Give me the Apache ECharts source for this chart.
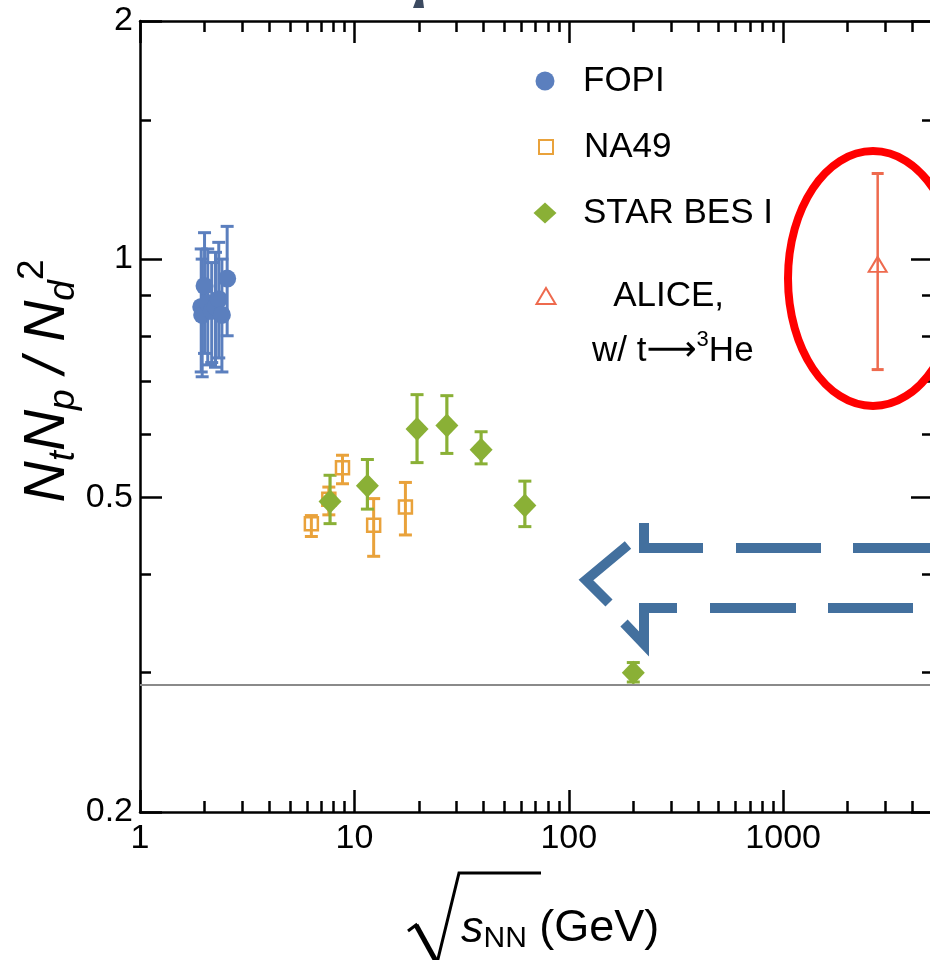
<!DOCTYPE html>
<html><head><meta charset="utf-8">
<script src="https://cdn.jsdelivr.net/npm/echarts@6/dist/echarts.min.js"></script>
<style>html,body{margin:0;padding:0;background:#fff}#c{width:930px;height:960px}</style>
</head><body><div id="c"></div>
<script>
// ---------------- data ----------------
const fopiEnergy = [1.93, 1.95, 2.00, 2.07, 2.16, 2.25, 2.33, 2.41, 2.55];
const fopiRatio  = [0.87, 0.85, 0.925, 0.88, 0.86, 0.87, 0.89, 0.85, 0.945];
const fopiLow    = [0.72, 0.71, 0.76, 0.735, 0.74, 0.73, 0.75, 0.72, 0.80];
const fopiHigh   = [1.03, 1.00, 1.08, 1.03, 0.99, 1.02, 1.05, 1.00, 1.10];

const na49Energy = [6.3, 7.6, 8.8, 12.3, 17.3];
const na49Ratio  = [0.463, 0.497, 0.545, 0.461, 0.486];
const na49Low    = [0.446, 0.475, 0.520, 0.421, 0.448];
const na49High   = [0.474, 0.515, 0.565, 0.498, 0.522];

const starEnergy = [7.7, 11.5, 19.6, 27, 39, 62.4, 200];
const starRatio  = [0.494, 0.517, 0.610, 0.616, 0.574, 0.488, 0.300];
const starLow    = [0.463, 0.483, 0.553, 0.568, 0.551, 0.459, 0.292];
const starHigh   = [0.533, 0.558, 0.674, 0.672, 0.605, 0.524, 0.309];

const aliceEnergy = [2760];
const aliceRatio  = [0.985];
const aliceLow    = [0.725];
const aliceHigh   = [1.283];

const coalescenceValue = 0.29;

const xMin = 1, xMax = 5000;
const xMajorTicks  = [1, 10, 100, 1000];
const xMajorLabels = ['1', '10', '100', '1000'];
const xMinorTicks  = [2,3,4,5,6,7,8,9,20,30,40,50,60,70,80,90,200,300,400,500,600,700,800,900,2000,3000,4000];
const yMin = 0.2, yMax = 2;
const yMajorTicks  = [0.2, 0.5, 1, 2];
const yMajorLabels = ['0.2', '0.5', '1', '2'];
const yMinorTicks  = [0.3, 0.4, 0.6, 0.7, 0.8, 0.9, 1.5];

const seriesNames = ['FOPI', 'NA49', 'STAR BES I', 'ALICE'];

// ---------------- styling ----------------
const FONT = "'Liberation Sans', Arial, Helvetica, sans-serif";
const C_FOPI = '#5B7FBE', C_NA49 = '#E9A23B', C_STAR = '#8AB036', C_ALICE = '#EE6A4E';
const C_ARROW = '#43709E';

function labelFrom(ticks, labels) {
  return function (v) {
    for (let i = 0; i < ticks.length; i++) {
      if (Math.abs(Math.log10(ticks[i]) - Math.log10(v)) < 1e-6) return labels[i];
    }
    return '';
  };
}

function xAxis(pos, major) {
  return {
    type: 'log', logBase: 10, min: xMin, max: xMax, position: pos, gridIndex: 0,
    axisLine: { show: major, onZero: false, lineStyle: { color: '#000', width: 2.5 } },
    axisTick: { show: true, inside: true, length: major ? 22 : 11,
      customValues: major ? xMajorTicks : xMinorTicks, lineStyle: { color: '#000', width: 2.5 } },
    axisLabel: { show: major && pos === 'bottom', customValues: xMajorTicks,
      formatter: labelFrom(xMajorTicks, xMajorLabels), fontSize: 34, fontFamily: FONT,
      color: '#000', margin: 10, showMinLabel: true, showMaxLabel: true },
    splitLine: { show: false }, minorTick: { show: false }, minorSplitLine: { show: false }
  };
}
function yAxis(pos, major) {
  return {
    type: 'log', logBase: 10, min: yMin, max: yMax, position: pos, gridIndex: 0,
    axisLine: { show: major, onZero: false, lineStyle: { color: '#000', width: 2.5 } },
    axisTick: { show: true, inside: true, length: major ? 22 : 11,
      customValues: major ? yMajorTicks : yMinorTicks, lineStyle: { color: '#000', width: 2.5 } },
    axisLabel: { show: major && pos === 'left', customValues: yMajorTicks,
      formatter: labelFrom(yMajorTicks, yMajorLabels), fontSize: 34, fontFamily: FONT,
      color: '#000', margin: 7, showMinLabel: true, showMaxLabel: true },
    splitLine: { show: false }, minorTick: { show: false }, minorSplitLine: { show: false }
  };
}

function errorBars(name, xs, lo, hi, color, width, cap) {
  return {
    type: 'custom', name: name, xAxisIndex: 0, yAxisIndex: 0, silent: true, z: 2,
    data: xs.map((x, i) => [x, (lo[i] + hi[i]) / 2, lo[i], hi[i]]),
    encode: { x: 0, y: [2, 3] },
    renderItem: function (params, api) {
      const x = api.value(0);
      const t = api.coord([x, api.value(3)]);
      const b = api.coord([x, api.value(2)]);
      const st = { stroke: color, lineWidth: width };
      const cs = { stroke: color, lineWidth: 3 };
      return { type: 'group', children: [
        { type: 'line', shape: { x1: t[0], y1: t[1], x2: b[0], y2: b[1] }, style: st },
        { type: 'line', shape: { x1: t[0] - cap, y1: t[1], x2: t[0] + cap, y2: t[1] }, style: cs },
        { type: 'line', shape: { x1: b[0] - cap, y1: b[1], x2: b[0] + cap, y2: b[1] }, style: cs }
      ] };
    }
  };
}

function pts(xs, ys) { return xs.map((x, i) => [x, ys[i]]); }

function legendOne(name, icon, left, top, w, h, padLeft, itemStyle, formatter) {
  const lg = {
    data: [{ name: name, icon: icon, itemStyle: itemStyle }],
    left: left, top: top, itemWidth: w, itemHeight: h, padding: 0,
    selectedMode: false, orient: 'vertical',
    textStyle: { fontSize: 35, fontFamily: FONT, color: '#000', lineHeight: 44, padding: [0, 0, 0, padLeft] }
  };
  if (formatter) lg.formatter = formatter;
  return lg;
}

const option = {
  animation: false,
  backgroundColor: '#fff',
  grid: { left: 140, right: -3, top: 21, bottom: 148, containLabel: false, outerBoundsMode: 'none' },
  xAxis: [xAxis('bottom', true), xAxis('bottom', false), xAxis('top', true), xAxis('top', false)],
  yAxis: [yAxis('left', true), yAxis('left', false), yAxis('right', true), yAxis('right', false)],
  legend: [
    legendOne(seriesNames[0], 'circle', 535.5, 59, 19, 19, 23.5, { color: C_FOPI }),
    legendOne(seriesNames[1], 'rect', 538, 125, 14, 14, 26,
      { color: 'rgba(255,255,255,0)', borderColor: C_NA49, borderWidth: 2 }),
    legendOne(seriesNames[2], 'diamond', 533.5, 191, 23, 21, 21.5, { color: C_STAR }),
    legendOne(seriesNames[3], 'triangle', 535.5, 274, 19, 16, 23.5,
      { color: 'rgba(255,255,255,0)', borderColor: C_ALICE, borderWidth: 2 },
      function () { return '   ALICE,'; })
  ],
  series: [
    errorBars('FOPI err', fopiEnergy, fopiLow, fopiHigh, C_FOPI, 3, 6.5),
    errorBars('NA49 err', na49Energy, na49Low, na49High, C_NA49, 3, 6.5),
    errorBars('STAR err', starEnergy, starLow, starHigh, C_STAR, 3.2, 6.5),
    errorBars('ALICE err', aliceEnergy, aliceLow, aliceHigh, C_ALICE, 2.5, 6),
    { type: 'scatter', name: seriesNames[0], data: pts(fopiEnergy, fopiRatio), symbol: 'circle',
      symbolSize: 18, itemStyle: { color: C_FOPI, opacity: 1 }, z: 3, silent: true },
    { type: 'scatter', name: seriesNames[1], data: pts(na49Energy, na49Ratio), symbol: 'rect',
      symbolSize: 13, itemStyle: { color: 'rgba(255,255,255,0)', borderColor: C_NA49, borderWidth: 2.5, opacity: 1 }, z: 3, silent: true },
    { type: 'scatter', name: seriesNames[2], data: pts(starEnergy, starRatio), symbol: 'diamond',
      symbolSize: [23, 24], itemStyle: { color: C_STAR, opacity: 1 }, z: 3, silent: true,
      markLine: { silent: true, symbol: 'none', label: { show: false }, z: 5,
        lineStyle: { color: '#8a8a8a', width: 2, type: 'solid' },
        data: [{ yAxis: coalescenceValue }] } },
    { type: 'scatter', name: seriesNames[3], data: pts(aliceEnergy, aliceRatio), symbol: 'triangle',
      symbolSize: [18, 15], itemStyle: { color: 'rgba(255,255,255,0)', borderColor: C_ALICE, borderWidth: 2, opacity: 1 }, z: 3, silent: true }
  ],
  graphic: [
    // second line of ALICE legend entry
    { type: 'text', x: 592, y: 351, z: 50, silent: true,
      style: { text: '{a|w/ t}{ar|⟶}{sup|3}{a|He}', fill: '#000', textVerticalAlign: 'middle', textAlign: 'left',
        rich: { a: { fontSize: 35, fontFamily: FONT, lineHeight: 44, fill: '#000' },
                ar: { fontSize: 35, fontFamily: "'DejaVu Sans', sans-serif", lineHeight: 44, fill: '#000' },
                sup: { fontSize: 22, fontFamily: FONT, lineHeight: 22, verticalAlign: 'top', fill: '#000' } } } },
    // y axis title
    { type: 'text', x: 48, y: 381, rotation: Math.PI / 2, z: 50, silent: true,
      style: { text: '{n|N}{s|t}{n|N}{s|p}{n| / N}{s|d}{u|2}', fill: '#000', textAlign: 'center', textVerticalAlign: 'middle',
        rich: { n: { fontSize: 57, fontStyle: 'italic', fontFamily: FONT, lineHeight: 68, fill: '#000' },
                s: { fontSize: 37, fontStyle: 'italic', fontFamily: FONT, lineHeight: 37, verticalAlign: 'bottom', fill: '#000' },
                u: { fontSize: 37, fontFamily: FONT, lineHeight: 37, verticalAlign: 'top', fill: '#000' } } } },
    // x axis title
    { type: 'text', x: 461, y: 929, z: 50, silent: true,
      style: { text: '{s|s}{sub|NN}{g| (GeV)}', fill: '#000', textAlign: 'left', textVerticalAlign: 'middle',
        rich: { s: { fontSize: 45, fontStyle: 'italic', fontFamily: FONT, lineHeight: 50, fill: '#000' },
                sub: { fontSize: 30, fontFamily: FONT, lineHeight: 30, verticalAlign: 'bottom', fill: '#000' },
                g: { fontSize: 45, fontFamily: FONT, lineHeight: 50, fill: '#000' } } } },
    { type: 'polyline', z: 50, silent: true,
      shape: { points: [[408, 931], [416, 925], [437, 963], [459, 873], [541, 873]] },
      style: { stroke: '#000', lineWidth: 3, fill: 'none' } },
    { type: 'polyline', z: 50, silent: true,
      shape: { points: [[416, 925], [437, 963]] },
      style: { stroke: '#000', lineWidth: 5, fill: 'none' } },
    // red ellipse annotation
    { type: 'ellipse', z: 60, silent: true,
      shape: { cx: 873, cy: 278.5, rx: 85, ry: 127.5 },
      style: { stroke: '#FF0000', lineWidth: 8, fill: 'none' } },
    // dashed arrow annotation (each dash)
    { type: 'polyline', z: 60, silent: true, shape: { points: [[960, 548], [853, 548]] },
      style: { stroke: C_ARROW, lineWidth: 10, fill: 'none' } },
    { type: 'polyline', z: 60, silent: true, shape: { points: [[821, 548], [736, 548]] },
      style: { stroke: C_ARROW, lineWidth: 10, fill: 'none' } },
    { type: 'polyline', z: 60, silent: true, shape: { points: [[703, 548], [644, 548], [644, 523]] },
      style: { stroke: C_ARROW, lineWidth: 10, fill: 'none', lineJoin: 'miter' } },
    { type: 'polyline', z: 60, silent: true, shape: { points: [[628, 545], [586, 580], [609, 603]] },
      style: { stroke: C_ARROW, lineWidth: 10, fill: 'none', lineJoin: 'miter' } },
    { type: 'polyline', z: 60, silent: true, shape: { points: [[913, 608], [828, 608]] },
      style: { stroke: C_ARROW, lineWidth: 10, fill: 'none' } },
    { type: 'polyline', z: 60, silent: true, shape: { points: [[796, 608], [710, 608]] },
      style: { stroke: C_ARROW, lineWidth: 10, fill: 'none' } },
    { type: 'polyline', z: 60, silent: true, shape: { points: [[677, 608], [644, 608], [644, 644], [624, 623]] },
      style: { stroke: C_ARROW, lineWidth: 10, fill: 'none', lineJoin: 'miter' } },
    // fragment of cut-off text at the top edge
    { type: 'polygon', z: 60, silent: true, shape: { points: [[416, 0], [423, 0], [424, 8], [413, 8]] },
      style: { fill: '#3B4A60' } }
  ]
};

const chart = echarts.init(document.getElementById('c'), null, { renderer: 'canvas', width: 930, height: 960 });
chart.setOption(option);
</script></body></html>
